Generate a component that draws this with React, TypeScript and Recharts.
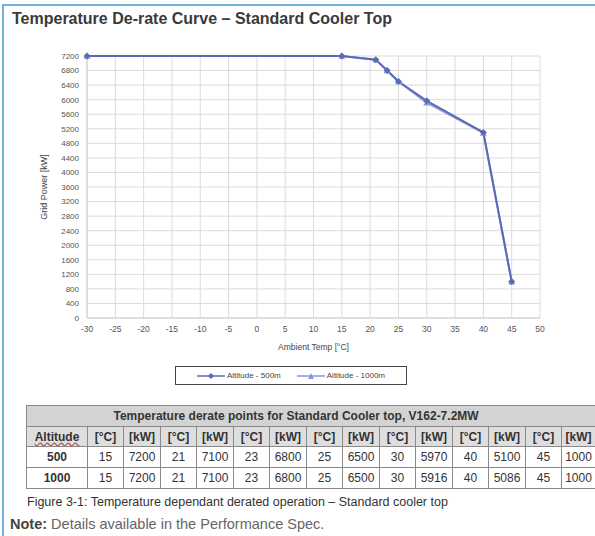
import React from 'react';
import { LineChart, Line, XAxis, YAxis, CartesianGrid, Legend, Label } from 'recharts';

const temps = [-30, 15, 21, 23, 25, 30, 40, 45];
const power500 = [7200, 7200, 7100, 6800, 6500, 5970, 5100, 1000];
const power1000 = [7200, 7200, 7100, 6800, 6500, 5916, 5086, 1000];
const xTicks = [-30, -25, -20, -15, -10, -5, 0, 5, 10, 15, 20, 25, 30, 35, 40, 45, 50];
const yTicks = [0, 400, 800, 1200, 1600, 2000, 2400, 2800, 3200, 3600, 4000, 4400, 4800, 5200, 5600, 6000, 6400, 6800, 7200];

// table rows (temperature / power pairs, skipping the -30 start point)
const tableTemps = [15, 21, 23, 25, 30, 40, 45];
const table500 = [7200, 7100, 6800, 6500, 5970, 5100, 1000];
const table1000 = [7200, 7100, 6800, 6500, 5916, 5086, 1000];

const data = temps.map((t, i) => ({ t, a500: power500[i], a1000: power1000[i] }));

const C500 = '#5a6bb6';
const C1000 = '#8a99d8';

const Diamond = (props: any) => {
  const { cx, cy, fill } = props;
  if (cx == null || cy == null) return null;
  const r = 3.5;
  return <polygon points={`${cx},${cy - r} ${cx + r},${cy} ${cx},${cy + r} ${cx - r},${cy}`} fill={fill} />;
};

const Triangle = (props: any) => {
  const { cx, cy, fill } = props;
  if (cx == null || cy == null) return null;
  const r = 3.5;
  return <polygon points={`${cx},${cy - r} ${cx + r},${cy + r * 0.8} ${cx - r},${cy + r * 0.8}`} fill={fill} />;
};

const LegendBox: React.FC = () => (
  <div style={{ border: '1px solid #444', height: 17, display: 'flex', alignItems: 'center', justifyContent: 'center', gap: 16, fontSize: 8, color: '#444', background: '#fff' }}>
    <span style={{ display: 'flex', alignItems: 'center', gap: 2 }}>
      <svg width={28} height={8}>
        <line x1={0} y1={4} x2={28} y2={4} stroke={C500} strokeWidth={1.5} />
        <polygon points="14,1 17,4 14,7 11,4" fill={C500} />
      </svg>
      Altitude - 500m
    </span>
    <span style={{ display: 'flex', alignItems: 'center', gap: 2 }}>
      <svg width={28} height={8}>
        <line x1={0} y1={4} x2={28} y2={4} stroke={C1000} strokeWidth={1.5} />
        <polygon points="14,1 17,7 11,7" fill={C1000} />
      </svg>
      Altitude - 1000m
    </span>
  </div>
);

const cell: React.CSSProperties = { border: '1px solid #8a8a8a', padding: 0, textAlign: 'center', height: 19, overflow: 'hidden', whiteSpace: 'nowrap' };

export default function App() {
  const font = '"Liberation Sans", Arial, sans-serif';
  return (
    <div style={{ position: 'absolute', left: 0, top: 0, width: 595, height: 536, overflow: 'hidden', background: '#fff', fontFamily: font }}>
      <div style={{ position: 'absolute', left: 2, top: 4, width: 620, height: 560, borderTop: '2px solid #6fb3dc', borderLeft: '2px solid #6fb3dc' }} />
      <div style={{ position: 'absolute', left: 12, top: 10, fontSize: 16, fontWeight: 'bold', color: '#3a3a3a' }}>
        Temperature De-rate Curve – Standard Cooler Top
      </div>
      <div style={{ position: 'absolute', left: 0, top: 0 }}>
        <LineChart width={595} height={400} data={data} margin={{ top: 56, right: 55, left: 38, bottom: 42 }}>
          <CartesianGrid stroke="#dcdcdc" strokeWidth={1} />
          <XAxis
            dataKey="t"
            type="number"
            domain={[-30, 50]}
            ticks={xTicks}
            interval={0}
            height={40}
            axisLine={{ stroke: '#cfcfcf' }}
            tickLine={false}
            tick={{ fill: '#555', fontSize: 8.5, fontFamily: font }}
          >
            <Label value="Ambient Temp [°C]" position="insideBottom" offset={8} style={{ fill: '#444', fontSize: 8.5, fontFamily: font }} />
          </XAxis>
          <YAxis
            type="number"
            domain={[0, 7200]}
            ticks={yTicks}
            interval={0}
            width={49}
            axisLine={{ stroke: '#cfcfcf' }}
            tickLine={false}
            tick={{ fill: '#555', fontSize: 8, fontFamily: font }}
          >
            <Label value="Grid Power [kW]" angle={-90} position="insideLeft" offset={6} style={{ fill: '#444', fontSize: 9, fontFamily: font, textAnchor: 'middle' }} />
          </YAxis>
          <Legend
            verticalAlign="middle"
            align="center"
            layout="horizontal"
            wrapperStyle={{ top: 366, left: 175, width: 232 }}
            content={() => <LegendBox />}
          />
          <Line dataKey="a1000" name="Altitude - 1000m" stroke={C1000} strokeWidth={2} fill={C1000} dot={<Triangle />} activeDot={false} isAnimationActive={false} />
          <Line dataKey="a500" name="Altitude - 500m" stroke={C500} strokeWidth={2} fill={C500} dot={<Diamond />} activeDot={false} isAnimationActive={false} />
        </LineChart>
      </div>
      <table style={{ position: 'absolute', left: 26, top: 405, borderCollapse: 'collapse', fontSize: 12, color: '#333', tableLayout: 'fixed', width: 568 }}>
        <colgroup>
          <col style={{ width: 61 }} />
          {tableTemps.map((t, i) => (
            <React.Fragment key={i}>
              <col style={{ width: 36 }} />
              <col style={{ width: i === tableTemps.length - 1 ? 34 : 37 }} />
            </React.Fragment>
          ))}
        </colgroup>
        <tbody>
          <tr style={{ background: '#d3d3d3' }}>
            <td colSpan={15} style={{ ...cell, height: 20, fontWeight: 'bold', paddingRight: 30 }}>
              Temperature derate points for Standard Cooler top, V162-7.2MW
            </td>
          </tr>
          <tr style={{ background: '#dedede', fontWeight: 'bold' }}>
            <td style={{ ...cell, textDecoration: 'underline wavy #d04040', textUnderlineOffset: 1 }}>Altitude</td>
            {tableTemps.map((t, i) => (
              <React.Fragment key={i}>
                <td style={cell}>[°C]</td>
                <td style={cell}>[kW]</td>
              </React.Fragment>
            ))}
          </tr>
          <tr>
            <td style={{ ...cell, fontWeight: 'bold', height: 20 }}>500</td>
            {tableTemps.map((t, i) => (
              <React.Fragment key={i}>
                <td style={cell}>{t}</td>
                <td style={cell}>{table500[i]}</td>
              </React.Fragment>
            ))}
          </tr>
          <tr>
            <td style={{ ...cell, fontWeight: 'bold', height: 20 }}>1000</td>
            {tableTemps.map((t, i) => (
              <React.Fragment key={i}>
                <td style={cell}>{t}</td>
                <td style={cell}>{table1000[i]}</td>
              </React.Fragment>
            ))}
          </tr>
        </tbody>
      </table>
      <div style={{ position: 'absolute', left: 27, top: 495, fontSize: 12.5, color: '#333' }}>
        Figure 3-1: Temperature dependant derated operation – Standard cooler top
      </div>
      <div style={{ position: 'absolute', left: 10, top: 516, fontSize: 14.5, color: '#666' }}>
        <b style={{ color: '#444' }}>Note:</b> Details available in the Performance Spec.
      </div>
    </div>
  );
}
